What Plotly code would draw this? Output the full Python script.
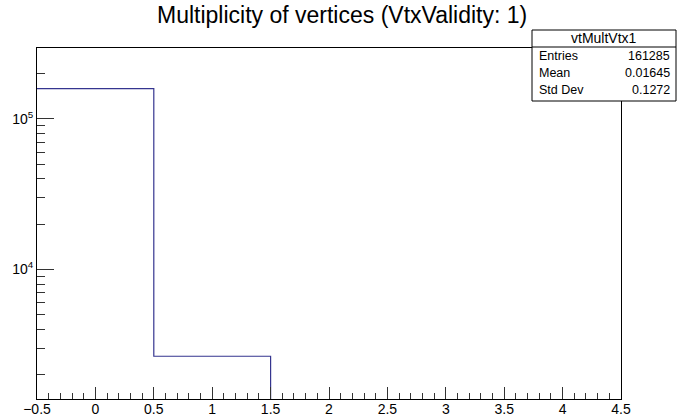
import plotly.graph_objects as go

# ---- data ----
bin_edges = [-0.5, 0.5, 1.5, 2.5, 3.5, 4.5]
counts = [158632, 2653, 0, 0, 0]
x_tick_vals = [-0.5, 0, 0.5, 1, 1.5, 2, 2.5, 3, 3.5, 4, 4.5]
x_tick_text = ["\u22120.5", "0", "0.5", "1", "1.5", "2", "2.5", "3", "3.5", "4", "4.5"]
y_tick_vals = [1e4, 1e5]
y_tick_text = ["10<sup>4</sup>", "10<sup>5</sup>"]
y_minor_vals = [m * 10 ** e for e in (3, 4, 5) for m in range(2, 10)]
title_text = "Multiplicity of vertices (VtxValidity: 1)"
stat_name = "vtMultVtx1"
stat_labels = ["Entries", "Mean", "Std Dev"]
stat_values = ["161285", "0.01645", "0.1272"]

W, H = 677, 418
L, R, T, B = 37, 56, 48, 19
FONT = "Liberation Sans, Arial, Helvetica, sans-serif"
LINE_COLOR = "#35358f"

# step line from bins (zero bins are not drawn on log scale)
xs, ys = [], []
last = None
for i, c in enumerate(counts):
    if c > 0:
        xs.append(bin_edges[i]); ys.append(c)
        last = i
xs.append(bin_edges[last + 1]); ys.append(counts[last])
xs.append(bin_edges[last + 1]); ys.append(1)

fig = go.Figure()
fig.add_trace(go.Scatter(x=xs, y=ys, mode="lines", line=dict(shape="hv", color=LINE_COLOR, width=1.2),
                         hoverinfo="skip", showlegend=False))

pw = W - L - R
ph = H - T - B


def px2x(px):
    return (px - L) / pw


def py2y(py):
    return (H - B - py) / ph


fig.update_layout(
    width=W, height=H,
    margin=dict(l=L, r=R, t=T, b=B, pad=0),
    paper_bgcolor="white", plot_bgcolor="white",
    font=dict(family=FONT, color="black"),
    showlegend=False,
    xaxis=dict(
        range=[-0.5, 4.5], showgrid=False, zeroline=False,
        showline=True, linecolor="black", linewidth=1, mirror=True,
        ticks="inside", ticklen=12, tickcolor="#333", tickwidth=1,
        tickmode="array", tickvals=x_tick_vals, ticktext=x_tick_text,
        tickfont=dict(size=14, family=FONT), automargin=False,
        ticklabelstandoff=-3,
        minor=dict(ticks="inside", ticklen=6, dtick=0.1, tick0=-0.5, tickcolor="#333", showgrid=False),
    ),
    yaxis=dict(
        type="log", range=[3.14, 5.47], showgrid=False, zeroline=False,
        showline=True, linecolor="black", linewidth=1, mirror=True,
        ticks="inside", ticklen=17, tickcolor="#333", tickwidth=1,
        tickmode="array", tickvals=y_tick_vals, ticktext=y_tick_text,
        tickfont=dict(size=14, family=FONT), automargin=False,
        minor=dict(ticks="inside", ticklen=8, tickmode="array", tickvals=y_minor_vals, tickcolor="#333", showgrid=False),
    ),
)

# title
fig.add_annotation(text=title_text, xref="paper", yref="paper", x=px2x(342), y=py2y(15),
                   showarrow=False, xanchor="center", yanchor="middle",
                   font=dict(size=23, family=FONT, color="black"))

# stat box
bx0, bx1, by0, by1, bsep = 532, 676, 30, 101, 47
fig.add_shape(type="rect", xref="paper", yref="paper", x0=px2x(bx0), x1=px2x(bx1), y0=py2y(by1), y1=py2y(by0),
              line=dict(color="black", width=1), fillcolor="white", layer="above")
fig.add_shape(type="line", xref="paper", yref="paper", x0=px2x(bx0), x1=px2x(bx1), y0=py2y(bsep), y1=py2y(bsep),
              line=dict(color="black", width=1), layer="above")
fig.add_annotation(text=stat_name, xref="paper", yref="paper", x=px2x((bx0 + bx1) / 2), y=py2y(38.5),
                   showarrow=False, xanchor="center", yanchor="middle", font=dict(size=14, family=FONT))
row_y = [56, 73, 90]
for lab, val, yy in zip(stat_labels, stat_values, row_y):
    fig.add_annotation(text=lab, xref="paper", yref="paper", x=px2x(537), y=py2y(yy),
                       showarrow=False, xanchor="left", yanchor="middle", font=dict(size=12.5, family=FONT))
    fig.add_annotation(text=val, xref="paper", yref="paper", x=px2x(672), y=py2y(yy),
                       showarrow=False, xanchor="right", yanchor="middle", font=dict(size=12.5, family=FONT))

fig.write_html("out.html")
